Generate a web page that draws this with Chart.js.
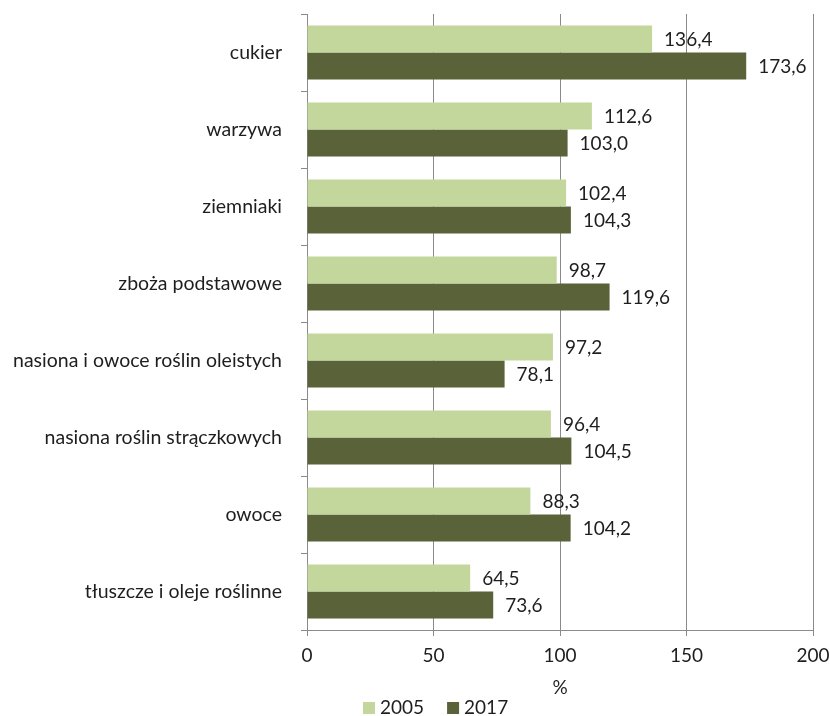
<!DOCTYPE html>
<html><head><meta charset="utf-8">
<script src="https://cdn.jsdelivr.net/npm/chart.js@4"></script>
<style>html,body{margin:0;padding:0;background:#fff}#wrap{width:830px;height:716px}</style>
</head><body><div id="wrap"><canvas id="c" width="830" height="716"></canvas></div>
<script>
const categories = ["cukier","warzywa","ziemniaki","zboża podstawowe","nasiona i owoce roślin oleistych","nasiona roślin strączkowych","owoce","tłuszcze i oleje roślinne"];
const values2005 = [136.4,112.6,102.4,98.7,97.2,96.4,88.3,64.5];
const values2017 = [173.6,103.0,104.3,119.6,78.1,104.5,104.2,73.6];
const seriesNames = ["2005","2017"];
const xTicks = [0,50,100,150,200];

const FONT = "Lato, 'Open Sans', sans-serif";
const FS = 19;
const TXT = "#1e1e1e";
const labelPlugin = {
  id:'valLabels',
  afterDatasetsDraw(chart){
    const ctx = chart.ctx;
    ctx.save();
    ctx.font = FS + "px " + FONT;
    ctx.fillStyle = TXT;
    ctx.textBaseline = "middle";
    ctx.textAlign = "left";
    chart.data.datasets.forEach((ds,i)=>{
      const meta = chart.getDatasetMeta(i);
      meta.data.forEach((el,j)=>{
        ctx.fillText(ds.data[j].toFixed(1).replace('.',','), el.x + 12, el.y + 1);
      });
    });
    ctx.restore();
  }
};
const legendPlugin = {
  id:'bottomLegend',
  afterDraw(chart){
    const ctx = chart.ctx;
    ctx.save();
    ctx.font = FS + "px " + FONT;
    ctx.textBaseline = "middle";
    ctx.textAlign = "left";
    let x = 363;
    const yc = 708;
    chart.data.datasets.forEach((ds)=>{
      ctx.fillStyle = ds.backgroundColor;
      ctx.fillRect(x, yc - 6, 12, 12);
      ctx.fillStyle = TXT;
      ctx.fillText(ds.label, x + 17, yc);
      x += 17 + ctx.measureText(ds.label).width + 23;
    });
    ctx.restore();
  }
};

new Chart(document.getElementById('c'),{
  type:'bar',
  data:{
    labels:categories,
    datasets:[
      {label:seriesNames[0],data:values2005,backgroundColor:"#C3D69B",borderWidth:0,categoryPercentage:0.7,barPercentage:1.0},
      {label:seriesNames[1],data:values2017,backgroundColor:"#5A6239",borderWidth:0,categoryPercentage:0.7,barPercentage:1.0}
    ]
  },
  options:{
    indexAxis:'y',
    responsive:false,
    animation:false,
    devicePixelRatio:1,
    layout:{padding:{top:14,right:0,left:0,bottom:0}},
    plugins:{
      legend:{display:false},
      tooltip:{enabled:false}
    },
    scales:{
      x:{
        min:0,max:200,
        afterBuildTicks(s){s.ticks = xTicks.map(v=>({value:v}));},
        afterFit(s){s.height = 86; s.paddingRight = 17; s.paddingLeft = 0;},
        grid:{color:"#8a8a8a",lineWidth:1,tickLength:6},
        border:{color:"#8a8a8a"},
        ticks:{font:{family:FONT,size:FS},color:TXT,padding:8},
        title:{display:true,text:"%",font:{family:FONT,size:FS},color:TXT,padding:{top:6,bottom:17}}
      },
      y:{
        afterFit(s){s.width = 307; s.paddingTop = 0; s.paddingBottom = 0;},
        grid:{drawOnChartArea:false,color:"#8a8a8a",tickLength:6,offset:true},
        border:{color:"#8a8a8a"},
        ticks:{font:{family:FONT,size:19.5},color:TXT,padding:19}
      }
    }
  },
  plugins:[labelPlugin, legendPlugin]
});
</script>
</body></html>
